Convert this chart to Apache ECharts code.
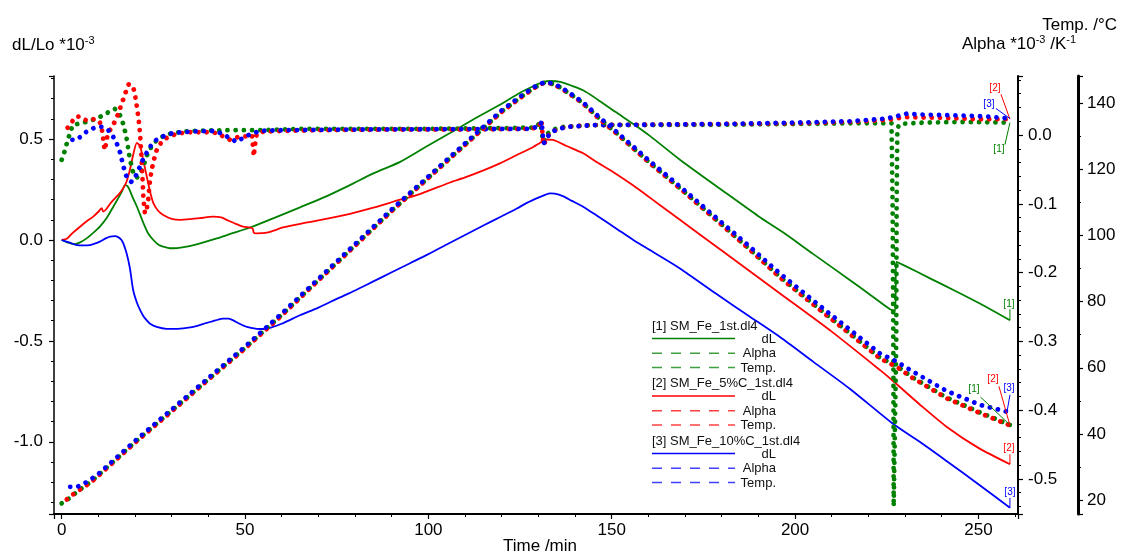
<!DOCTYPE html>
<html><head><meta charset="utf-8">
<script src="https://cdn.jsdelivr.net/npm/echarts@6/dist/echarts.min.js"></script>
<style>html,body{margin:0;padding:0;background:#fff}#c{width:1123px;height:554px}</style>
</head><body><div id="c"></div>
<script>
// ---------- DATA ----------
// dL/Lo (x10^-3), left axis
const dL1_t = [0,1.5,3.6,5,6.8,8.6,10.4,12.3,14.1,15.5,16.4,17.3,18,18.6,19.5,20.5,22.3,23.5,25,26.5,27.7,29.5,31.5,34.1,38,42.3,46,51.4,58,65,72,78.6,85,92.3,99,105.9,112,119.5,125,128.6,131,133.4,136,139,142.2,146,151,155.9,160.4,168.6,180,190,196.8,205,215,220,225.9,227.3,227.6,230,236.8,244,250.4,258.6];
const dL1   = [0,-0.012,-0.021,-0.012,0.008,0.035,0.066,0.11,0.166,0.21,0.24,0.272,0.266,0.245,0.205,0.166,0.083,0.035,0,-0.025,-0.033,-0.041,-0.04,-0.033,-0.015,0.008,0.03,0.062,0.11,0.162,0.215,0.272,0.33,0.387,0.458,0.53,0.595,0.67,0.73,0.762,0.781,0.788,0.783,0.765,0.742,0.698,0.635,0.575,0.516,0.398,0.248,0.118,0.037,-0.07,-0.199,-0.265,-0.343,-0.35,-0.108,-0.128,-0.19,-0.255,-0.315,-0.398];
const dL2_t = [0,1.5,3,5,7,8.6,10,10.9,11.3,12,13,14.1,15.5,16.8,17.7,18.6,19.6,20.5,21.4,22.3,23.2,24.1,25,26.3,27.7,30,32.3,35,37.7,41.3,43.5,45,47.5,49.5,52,52.4,53,55.9,60.4,65,70,78.6,85,92.3,96.8,105.9,110,115,119.5,124,128.6,130.4,132.3,134,137.7,142.2,146,151,155.9,160.4,168.6,180,195.9,210,223.2,226.8,234,241.3,250,258.6];
const dL2   = [0,0.008,0.035,0.066,0.095,0.116,0.14,0.158,0.141,0.15,0.175,0.199,0.225,0.257,0.29,0.348,0.43,0.481,0.464,0.39,0.315,0.24,0.183,0.145,0.124,0.105,0.1,0.103,0.108,0.116,0.112,0.1,0.08,0.066,0.058,0.036,0.033,0.036,0.062,0.08,0.097,0.13,0.16,0.2,0.222,0.285,0.31,0.345,0.38,0.42,0.461,0.481,0.498,0.496,0.466,0.43,0.385,0.33,0.27,0.21,0.1,-0.052,-0.265,-0.454,-0.645,-0.7,-0.815,-0.925,-1.03,-1.111];
const dL3_t = [0,2,4.1,6,7.7,9,10.4,12,13.2,14.5,15.5,16.3,16.8,17.7,18.6,19.5,20.5,21.4,22.3,23.2,24.1,25.9,28.6,31,34.1,37,39.5,42,44.1,45.5,46.8,48.5,50.5,53.2,55,56.8,60,65,70,75,80,85,90,95,100,105,110,115,120,124,127,130,132,133.2,134.5,137,139,142.2,146,151,155.9,160.4,168.6,178.6,187.7,195.9,205,215,226.8,234,241.3,250,258.6];
const dL3   = [0,-0.012,-0.025,-0.027,-0.025,-0.018,-0.008,0.008,0.017,0.019,0.013,0.0,-0.017,-0.066,-0.14,-0.249,-0.31,-0.348,-0.378,-0.398,-0.415,-0.431,-0.44,-0.44,-0.435,-0.425,-0.411,-0.398,-0.39,-0.39,-0.398,-0.415,-0.431,-0.44,-0.441,-0.435,-0.415,-0.373,-0.335,-0.292,-0.25,-0.205,-0.16,-0.115,-0.07,-0.022,0.025,0.072,0.118,0.155,0.185,0.21,0.225,0.231,0.23,0.215,0.195,0.165,0.12,0.06,0.0,-0.05,-0.141,-0.268,-0.38,-0.481,-0.604,-0.738,-0.912,-1.0,-1.095,-1.21,-1.327];

// Alpha (x10^-3 /K), first right axis
const al1_t = [0,0.9,1.6,3,5,7.5,9.5,11.5,13,14.5,15.5,16.3,17,17.7,18.6,19.5,20.5,21.5,22.3,23.2,24.1,25.5,26.8,28.5,30.4,35,45,55,65,80,100,120,129,130.6,130.9,131.3,132,134,137,145,160,180,200,215,226.3,226.6,226.8,226.9,227.3,227.6,227.7,227.9,228.6,235,245,258.6];
const al1   = [-0.036,-0.022,-0.008,0.0145,0.017,0.02,0.024,0.029,0.034,0.038,0.033,0.024,0.012,-0.005,-0.035,-0.055,-0.062,-0.055,-0.045,-0.03,-0.02,-0.01,-0.004,0.0,0.003,0.006,0.007,0.007,0.009,0.009,0.009,0.01,0.011,0.018,0.005,-0.01,0.0,0.008,0.012,0.0145,0.0145,0.015,0.016,0.017,0.017,-0.1,-0.3,-0.54,-0.54,-0.3,-0.1,0.01,0.016,0.018,0.019,0.018];
const al2_t = [0.4,1.5,2.3,3.6,5,6.8,8.5,10,10.8,11.2,11.5,11.8,12.3,12.7,13.6,15,16.4,17.5,18.3,19.5,20.1,20.5,21,21.4,21.8,22.3,22.7,23.2,23.6,24,24.5,25.2,25.9,27,27.7,29.5,31.4,35,40,42.3,44,45.9,47.5,48.6,50.5,51.9,52.2,52.4,52.7,53.2,55,60,70,90,110,128,130.2,130.8,131,131.3,131.6,132,133.5,135.5,138,145,160,180,200,215,225,230,240,250,258.6];
const al2   = [0.003,0.01,0.0145,0.026,0.027,0.021,0.023,0.022,0.0145,0.0,-0.015,-0.022,-0.005,0.004,0.01,0.025,0.046,0.063,0.074,0.07,0.055,0.041,0.022,0.0,-0.036,-0.094,-0.114,-0.108,-0.094,-0.07,-0.051,-0.035,-0.022,-0.012,-0.007,-0.002,0.002,0.004,0.004,0.003,-0.002,-0.007,-0.004,-0.002,-0.002,0.0,-0.02,-0.031,-0.015,0.002,0.005,0.006,0.007,0.008,0.008,0.009,0.012,0.022,0.01,-0.01,-0.0145,-0.005,0.004,0.009,0.012,0.0145,0.015,0.016,0.017,0.019,0.022,0.026,0.025,0.023,0.023];
const al3_t = [1.4,4.1,6.8,9.1,10.9,12.7,13.6,15,15.9,16.8,17.5,18.2,19,19.8,20.9,22.3,24.1,25.5,26.8,28.5,30.4,35,42,45,47.7,49.5,51,54,60,80,128,130.5,130.9,131.2,131.5,132,133.5,135.5,138,145,160,180,200,215,225,230.4,233,240,247,252,258.6];
const al3   = [-0.007,-0.007,0.005,0.011,0.012,0.007,0.002,-0.012,-0.025,-0.045,-0.058,-0.066,-0.068,-0.064,-0.051,-0.034,-0.017,-0.008,-0.004,0.0,0.003,0.005,0.006,-0.002,-0.01,-0.004,0.0,0.006,0.007,0.008,0.009,0.014,0.02,0.0,-0.012,-0.006,0.004,0.009,0.012,0.0145,0.015,0.016,0.018,0.02,0.024,0.031,0.03,0.029,0.028,0.027,0.024];

// Temperature (°C), second right axis
const tp12_t = [0,2,4,6,8,10,20,30,40,50,60,70,80,90,100,110,120,126,129,131.5,133.5,136,140,142.2,146.5,151.3,160.4,169.5,178.6,187.7,195.9,205.9,215,223.2,227.8,232.2,241.3,250.4,258.6];
const tp1 = [19,20.5,22.3,24,25.5,27.5,37.5,47,56.5,66,76,86.5,97,107.5,117.5,127.5,137.5,142.5,144.8,146.2,146,144.8,141.8,140,135.5,131,122,113.5,104.7,95.8,87.5,78.5,70.4,63,60.5,57,51,46.5,42.7];
const tp2 = [18.8,20.8,22.4,23.9,25.4,27.3,37.3,46.8,56.4,65.8,75.8,86.4,96.9,107.4,117.4,127.4,137.4,142.4,144.7,146.2,146,144.7,141.7,139.9,135.4,130.9,121.9,113.4,104.6,95.7,87.3,78.3,70.2,62.8,60.2,56.8,50.8,46.3,42.6];
const tp3_t = [0.8,2.5,4.3,6.8,8,10,20,30,40,50,60,70,80,90,100,110,120,126,129,131.5,133.5,136,140,142.2,146.5,151.3,160.4,169.5,178.6,187.7,195.9,205.9,215,223.2,227.8,232.2,241.3,250.4,257.8];
const tp3 = [24,24,24,25.4,26.3,27.9,37.9,47.4,56.9,66.4,76.4,86.9,97.4,107.9,117.9,127.9,137.9,142.8,145,146.3,146.1,145,142,140.3,135.9,131.4,122.5,114,105.3,96.6,88.5,79.5,71.5,64.3,61.8,58.8,53,48.8,46.7];

// Axis ranges and texts
const xRange = [-2.1, 260.8];
const dLRange = [-1.3578, 0.8127];
const alphaRange = [-0.5509, 0.0858];
const tempRange = [15.77, 148.26];
const fileNames = ['[1] SM_Fe_1st.dl4', '[2] SM_Fe_5%C_1st.dl4', '[3] SM_Fe_10%C_1st.dl4'];
const rowNames = ['dL', 'Alpha', 'Temp.'];
const endTags = ['[1]', '[2]', '[3]'];

// ---------- CHART ----------
const FONT = '"Liberation Sans", Arial, Helvetica, sans-serif';
const COLORS = ['#008000', '#ff0000', '#0000ff'];
const zip = (t, v) => t.map((x, i) => [x, v[i]]);
const fmt = (step, dec) => v => Math.abs(v / step - Math.round(v / step)) < 1e-6 ? (Math.abs(v) < 1e-9 ? 0 : v).toFixed(dec) : '';

function yAxisBase(range, split, minorSplit, lw, margin, f) {
  return {
    type: 'value', min: range[0], max: range[1], splitNumber: split, scale: true,
    axisLine: {show: true, onZero: false, lineStyle: {color: '#000', width: lw}},
    axisTick: {show: true, length: 5, lineStyle: {color: '#000', width: 1.2}},
    minorTick: {show: true, splitNumber: minorSplit, length: 3, lineStyle: {color: '#000', width: 1}},
    splitLine: {show: false}, minorSplitLine: {show: false},
    axisLabel: {formatter: f, margin: margin, fontSize: 17, color: '#000', fontFamily: FONT}
  };
}

const dLs = [[dL1_t, dL1], [dL2_t, dL2], [dL3_t, dL3]];
const als = [[al1_t, al1], [al2_t, al2], [al3_t, al3]];
const tps = [[tp12_t, tp1], [tp12_t, tp2], [tp3_t, tp3]];

const series = [];
dLs.forEach((d, i) => series.push({
  type: 'line', xAxisIndex: 0, yAxisIndex: 0, data: zip(d[0], d[1]), symbol: 'none', smooth: 0.25,
  lineStyle: {color: COLORS[i], width: 1.8}, z: 2, silent: true
}));
const offs = [0, 1.3, 2.6];
const dotStyle = i => ({color: COLORS[i], width: 4.8, type: [0.01, 8.2], cap: 'round', dashOffset: offs[i]});
als.forEach((d, i) => series.push({
  type: 'line', xAxisIndex: 0, yAxisIndex: 1, data: zip(d[0], d[1]), symbol: 'none',
  lineStyle: dotStyle(i), z: 3, silent: true
}));
tps.forEach((d, i) => series.push({
  type: 'line', xAxisIndex: 0, yAxisIndex: 2, data: zip(d[0], d[1]), symbol: 'none',
  lineStyle: dotStyle(i), z: 3, silent: true
}));

const chart = echarts.init(document.getElementById('c'), null, {renderer: 'canvas'});
const yA = yAxisBase(dLRange, 5, 5, 1.5, 11, fmt(0.5, 1)); yA.position = 'left';
const yB = yAxisBase(alphaRange, 5, 5, 2, 10, fmt(0.1, 1)); yB.position = 'right'; yB.offset = 0;
const yC = yAxisBase(tempRange, 7, 2, 3, 9, fmt(20, 0)); yC.position = 'right'; yC.offset = 60;

chart.setOption({
  animation: false,
  backgroundColor: '#fff',
  grid: {left: 54, right: 105, top: 76, bottom: 40, containLabel: false, outerBoundsMode: 'none'},
  xAxis: {
    type: 'value', min: xRange[0], max: xRange[1], splitNumber: 5,
    axisLine: {show: true, onZero: false, lineStyle: {color: '#000', width: 2}},
    axisTick: {show: true, length: 5, lineStyle: {color: '#000', width: 1.2}},
    minorTick: {show: true, splitNumber: 5, length: 3, lineStyle: {color: '#000', width: 1}},
    splitLine: {show: false},
    axisLabel: {formatter: fmt(50, 0), margin: 8, fontSize: 17, color: '#000', fontFamily: FONT}
  },
  yAxis: [yA, yB, yC],
  series: series
});

// ---------- TEXT / LEGEND / END TAGS ----------
const mctx = document.createElement('canvas').getContext('2d');
const tw = (s, size) => { mctx.font = size + 'px ' + FONT; return mctx.measureText(s).width; };
const G = [];
function txt(x, y, s, size, color, align) {
  G.push({type: 'text', x: x, y: y, silent: true, z: 10,
    style: {text: s, fill: color || '#000', font: size + 'px ' + FONT, align: align || 'left', verticalAlign: 'middle'}});
}
function ln(x1, y1, x2, y2, color, w, dash, op) {
  G.push({type: 'line', silent: true, z: 10, shape: {x1, y1, x2, y2},
    style: {stroke: color, lineWidth: w || 1, lineDash: dash || null, opacity: op == null ? 1 : op}});
}
// composite text with superscripts: parts = [[text, isSup], ...]
function sup(xStart, yMid, parts, alignRight) {
  const w = parts.map(p => tw(p[0], p[1] ? 11 : 17));
  let x = alignRight ? xStart - w.reduce((a, b) => a + b, 0) : xStart;
  parts.forEach((p, i) => { txt(x, p[1] ? yMid - 4 : yMid, p[0], p[1] ? 11 : 17, '#000'); x += w[i]; });
}
sup(12, 45, [['dL/Lo *10', 0], ['-3', 1]], false);
txt(1117, 25, 'Temp. /°C', 17, '#000', 'right');
sup(1076, 44, [['Alpha *10', 0], ['-3', 1], [' /K', 0], ['-1', 1]], true);
txt(540, 546, 'Time /min', 17, '#000', 'center');

// legend block
fileNames.forEach((name, i) => {
  const y0 = 326 + i * 57.5;
  txt(652, y0, name, 13, '#111');
  const rows = [y0 + 12.5, y0 + 27.3, y0 + 41.5];
  rows.forEach((ry, k) => {
    if (k === 0) ln(652, ry, 735, ry, COLORS[i], 1.5);
    else ln(652, ry, 735, ry, COLORS[i], 1.5, [10, 9], 0.75);
    txt(776, ry + 0.5, rowNames[k], 13, '#111', 'right');
  });
});

// end tags with leader lines (offsets relative to curve end points)
const last = a => a[a.length - 1];
const tags = [
  {yi: 0, d: dLs[0], c: 0, tx: -1, ty: -16, lx: 0, ly: -11},
  {yi: 0, d: dLs[1], c: 1, tx: -1, ty: -16, lx: 0, ly: -10},
  {yi: 0, d: dLs[2], c: 2, tx: 0, ty: -16, lx: 0, ly: -10},
  {yi: 1, d: als[0], c: 0, tx: -11, ty: 27, lx: -5, ly: 22},
  {yi: 1, d: als[1], c: 1, tx: -15, ty: -31, lx: -9, ly: -25},
  {yi: 1, d: als[2], c: 2, tx: -21, ty: -14, lx: -14, ly: -10},
  {yi: 2, d: tps[0], c: 0, tx: -36, ty: -36, lx: -29.5, ly: -28},
  {yi: 2, d: tps[1], c: 1, tx: -17, ty: -46, lx: -11, ly: -39},
  {yi: 2, d: tps[2], c: 2, tx: 2, ty: -23, lx: 3, ly: -17}
];
tags.forEach(t => {
  const p = chart.convertToPixel({xAxisIndex: 0, yAxisIndex: t.yi}, [last(t.d[0]), last(t.d[1])]);
  ln(p[0] + t.lx, p[1] + t.ly, p[0], p[1], COLORS[t.c], 1);
  txt(p[0] + t.tx, p[1] + t.ty, endTags[t.c], 10, COLORS[t.c], 'center');
});

chart.setOption({graphic: G});
</script></body></html>
